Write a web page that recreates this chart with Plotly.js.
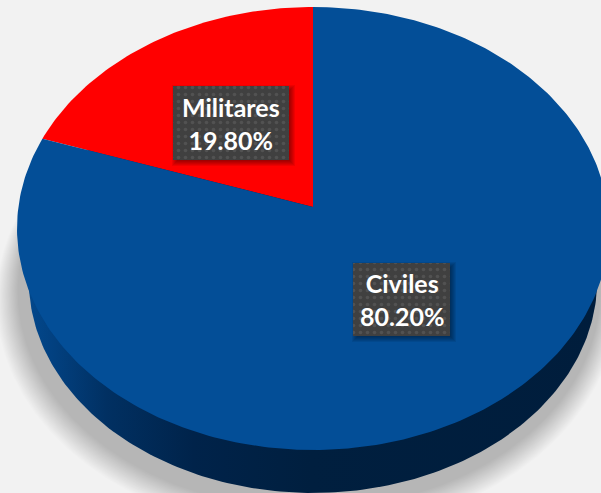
<!DOCTYPE html>
<html><head><meta charset="utf-8">
<script src="https://cdn.plot.ly/plotly-3.0.1.min.js"></script>
<style>html,body{margin:0;padding:0;background:#f2f2f2}#c{width:601px;height:493px}</style>
</head><body><div id="c"></div>
<script>
const categories = ["Militares", "Civiles"];
const values = [19.80, 80.20];
const sliceColors = ["#ff0000", "#034e97"];

// disc projection (a tilted circle seen in perspective, in picture pixels)
const X0 = 313, Y0 = 207, A = 294.6, B = 219.4, P = 0.097;
function proj(t, f, dx, dy) {
  const s = Math.sin(t), c = Math.cos(t), w = 1 + P * c;
  return [X0 + dx + f * A * s / w, Y0 + dy - f * B * c / w];
}
function outline(f, dx, dy) {
  const xs = [], ys = [];
  for (let i = 0; i <= 360; i++) {
    const p = proj(i * Math.PI / 180, f, dx, dy); xs.push(p[0]); ys.push(p[1]);
  }
  return {x: xs, y: ys};
}
const traces = [];
// soft shadow: stacked translucent outlines
const N = 20;
for (let i = 0; i < N; i++) {
  const k = i / (N - 1);
  const o = outline(1.05 - 0.065 * k, -6 + 2 * k, 71 - 8 * k);
  traces.push({type: "scatter", mode: "lines", x: o.x, y: o.y, fill: "toself",
    fillcolor: "rgba(0,0,0,0.0115)", line: {width: 0}, hoverinfo: "skip", showlegend: false});
}
// side wall
const wall = outline(0.96, 0, 52.7);
traces.push({type: "scatter", mode: "lines", x: wall.x, y: wall.y, fill: "toself",
  line: {width: 0}, hoverinfo: "skip", showlegend: false,
  fillgradient: {type: "horizontal", start: 20, stop: 600, colorscale: [
    [0, "#034a90"], [0.06, "#02407f"], [0.15, "#013062"], [0.3, "#00234a"], [0.5, "#001f3f"], [1, "#001d3c"]]}});
// slices, computed from the values
function sector(from, to) {
  const xs = [X0], ys = [Y0];
  const n = Math.ceil(Math.abs(to - from) * 3.6);
  for (let i = 0; i <= n; i++) {
    const t = (from + (to - from) * i / n) * 2 * Math.PI / 100;
    const p = proj(t, 1, 0, 0); xs.push(p[0]); ys.push(p[1]);
  }
  xs.push(X0); ys.push(Y0);
  return {x: xs, y: ys};
}
let start = 100;
categories.forEach((c, i) => {
  const end = start - values[i];
  const o = sector(start, end);
  traces.push({type: "scatter", mode: "lines", name: c, x: o.x, y: o.y, fill: "toself",
    fillcolor: sliceColors[i], line: {width: 0}, showlegend: false, hoverinfo: "name"});
  start = end;
});
// label boxes with soft drop shadow
const boxes = [[173, 289, 86, 160], [353, 450, 263, 336]];
const annotations = [];
boxes.forEach((b) => {
  for (let k = 0; k < 6; k++) {
    const x0 = b[0] + 4 - k, x1 = b[1] + 1 + k, y0 = b[2] + 4 - k, y1 = b[3] + 1 + k;
    traces.push({type: "scatter", mode: "lines", x: [x0, x1, x1, x0, x0], y: [y0, y0, y1, y1, y0],
      fill: "toself", fillcolor: "rgba(0,0,0,0.07)", line: {width: 0}, hoverinfo: "skip", showlegend: false});
  }
});
boxes.forEach((b, i) => {
  traces.push({type: "scatter", mode: "lines", x: [b[0], b[1], b[1], b[0], b[0]], y: [b[2], b[2], b[3], b[3], b[2]],
    fill: "toself", fillcolor: "#404040", line: {width: 0}, hoverinfo: "skip", showlegend: false,
    fillpattern: {shape: ".", bgcolor: "#404040", fgcolor: "#525252", size: 7, solidity: 0.2}});
  annotations.push({xref: "x", yref: "y", x: (b[0] + b[1]) / 2, y: (b[2] + b[3]) / 2, showarrow: false,
    text: categories[i] + "<br>" + values[i].toFixed(2) + "%",
    font: {family: "Lato, Carlito, sans-serif", size: 25, color: "#ffffff", weight: 700}, align: "center"});
});
const layout = {
  width: 601, height: 493, margin: {l: 0, r: 0, t: 0, b: 0},
  paper_bgcolor: "#f2f2f2", plot_bgcolor: "#f2f2f2", showlegend: false,
  xaxis: {range: [0, 601], visible: false, fixedrange: true},
  yaxis: {range: [493, 0], visible: false, fixedrange: true},
  annotations
};
Plotly.newPlot("c", traces, layout, {displayModeBar: false, staticPlot: true});
</script></body></html>
